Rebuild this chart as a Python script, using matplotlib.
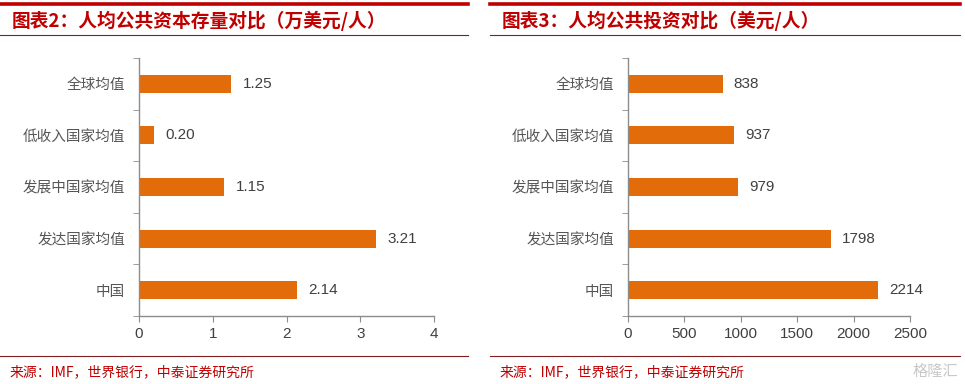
import numpy as np
import matplotlib
matplotlib.use("Agg")
import matplotlib.pyplot as plt
from matplotlib.lines import Line2D

plt.rcParams['font.family'] = ['Noto Sans CJK SC', 'DejaVu Sans']

# données (du haut vers le bas)
categories = ["全球均值", "低收入国家均值", "发展中国家均值", "发达国家均值", "中国"]
stock_values = [1.25, 0.20, 1.15, 3.21, 2.14]
stock_labels = ["1.25", "0.20", "1.15", "3.21", "2.14"]
invest_values = [838, 937, 979, 1798, 2214]
invest_labels = ["838", "937", "979", "1798", "2214"]

title_left = "图表2：人均公共资本存量对比（万美元/人）"
title_right = "图表3：人均公共投资对比（美元/人）"
source_text = "来源：IMF，世界银行，中泰证券研究所"

BAR = "#E36C0A"
RED = "#C00000"
GRID = "#8C8C8C"
TXT = "#404040"

W, H = 965, 384
fig = plt.figure(figsize=(W / 100, H / 100), dpi=100)


def fx(px):
    return px / W


def fy(py):
    return 1 - py / H


def panneau(x0, x1, ax_l, ax_r, vals, labs, xmax, xticks, off, titre):
    # lignes de titre et de source
    fig.add_artist(Line2D([fx(x0), fx(x1)], [fy(4), fy(4)], color=RED, lw=2.6))
    fig.add_artist(Line2D([fx(x0), fx(x1)], [fy(35), fy(35)], color="#7F1F1F", lw=0.8))
    fig.add_artist(Line2D([fx(x0), fx(x1)], [fy(356), fy(356)], color="#7F1F1F", lw=0.8))
    fig.text(fx(x0 + 12), fy(21), titre, color=RED, fontsize=13.5,
             fontweight="bold", style="italic", va="center", ha="left")
    fig.text(fx(x0 + 10), fy(372), source_text, color=RED, fontsize=10,
             va="center", ha="left")

    ax = fig.add_axes([fx(ax_l), fy(316), fx(ax_r - ax_l), fy(58) - fy(316)])
    y = np.arange(len(categories))
    ax.barh(y, vals, height=0.35, color=BAR)
    for yi, v, t in zip(y, vals, labs):
        ax.text(v + off, yi, t, va="center", ha="left", fontsize=11,
                color=TXT, family=["Liberation Sans", "DejaVu Sans"])
    ax.set_ylim(len(categories) - 0.5, -0.5)
    ax.set_xlim(0, xmax)
    ax.set_xticks(xticks)
    ax.set_xticklabels([str(t) for t in xticks], fontsize=11, color=TXT,
                       family=["Liberation Sans", "DejaVu Sans"])
    ax.set_yticks(y)
    ax.set_yticklabels(categories, fontsize=10.5, color="#555555")
    ax.set_yticks(np.arange(-0.5, len(categories), 1), minor=True)
    ax.tick_params(axis="y", which="major", length=0, pad=10)
    ax.tick_params(axis="y", which="minor", length=4, color=GRID)
    ax.tick_params(axis="x", length=4, color=GRID, pad=4)
    for s in ["top", "right"]:
        ax.spines[s].set_visible(False)
    for s in ["left", "bottom"]:
        ax.spines[s].set_color(GRID)
        ax.spines[s].set_linewidth(1.0)
    return ax


panneau(0, 468, 139, 434, stock_values, stock_labels, 4, [0, 1, 2, 3, 4], 0.16, title_left)
panneau(490, 960, 628, 910, invest_values, invest_labels, 2500,
        [0, 500, 1000, 1500, 2000, 2500], 100, title_right)

# filigrane
fig.text(fx(958), fy(371), "格隆汇", color="#C8C8C8", fontsize=11,
         va="center", ha="right")

fig.savefig("out.png", dpi=100)
